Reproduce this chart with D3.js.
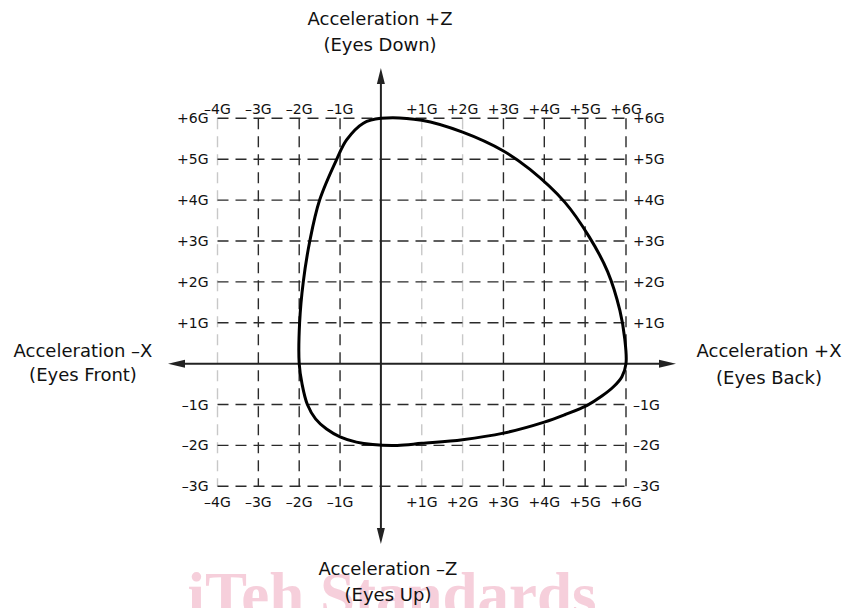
<!DOCTYPE html>
<html>
<head>
<meta charset="utf-8">
<script src="https://cdn.jsdelivr.net/npm/d3@7"></script>
<style>
  html, body { margin: 0; padding: 0; background: #fff; }
  svg { display: block; }
</style>
</head>
<body>
<svg id="chart" width="848" height="608"></svg>
<script>
// ---- data ----
const xTicks = [-4, -3, -2, -1, 1, 2, 3, 4, 5, 6];
const yTicks = [-3, -2, -1, 1, 2, 3, 4, 5, 6];
const lightGridX = [-4, 1, 2];
// tolerance envelope (clockwise from top), X and Z acceleration in G
const envX = [0, 1, 2, 3, 3.65, 4.5, 5.1, 5.55, 5.85, 5.97, 6, 5.9, 5.7, 5.4, 5.05, 4.5, 4, 3, 2, 1, 0.4, -0.2, -0.6, -1, -1.33, -1.6, -1.8, -1.93, -2, -1.99, -1.9, -1.74, -1.5, -1.08, -0.84, -0.43];
const envZ = [6, 5.95, 5.66, 5.2, 4.75, 3.95, 3.1, 2.25, 1.3, 0.6, 0, -0.32, -0.56, -0.8, -1.02, -1.25, -1.43, -1.7, -1.86, -1.95, -2.0, -1.98, -1.92, -1.79, -1.6, -1.35, -1.0, -0.5, 0, 1, 2, 3, 4, 5, 5.47, 5.88];
const axisLabels = {
  top: ["Acceleration +Z", "(Eyes Down)"],
  bottom: ["Acceleration \u2013Z", "(Eyes Up)"],
  left: ["Acceleration \u2013X", "(Eyes Front)"],
  right: ["Acceleration +X", "(Eyes Back)"]
};
const watermark = "iTeh Standards";

// ---- drawing ----
const svg = d3.select("#chart");
const x = d3.scaleLinear().domain([-4, 6]).range([217.5, 626]);
const y = d3.scaleLinear().domain([-3, 6]).range([486.3, 118.3]);
const fmt = v => (v > 0 ? "+" + v : "\u2013" + (-v)) + "G";
const font = "'DejaVu Sans', Verdana, sans-serif";

// watermark
svg.append("text")
  .attr("x", 392).attr("y", 616)
  .attr("text-anchor", "middle")
  .attr("font-family", "'Liberation Serif', serif")
  .attr("font-weight", "bold")
  .attr("font-size", 63)
  .attr("fill", "#f6cfdb")
  .text(watermark);

// grid
const g = svg.append("g");
g.selectAll(".vgrid").data(xTicks).join("line")
  .attr("x1", d => x(d)).attr("x2", d => x(d))
  .attr("y1", y(6)).attr("y2", y(-3))
  .attr("stroke", d => lightGridX.includes(d) ? "#c8c8c8" : "#2a2a2a")
  .attr("stroke-width", 1.4)
  .attr("stroke-dasharray", "11,7");
g.selectAll(".hgrid").data(yTicks).join("line")
  .attr("y1", d => y(d)).attr("y2", d => y(d))
  .attr("x1", x(-4)).attr("x2", x(6))
  .attr("stroke", "#2a2a2a")
  .attr("stroke-width", 1.4)
  .attr("stroke-dasharray", "11,7");

// axes with arrowheads
const ax = svg.append("g").attr("stroke", "#222").attr("fill", "#222");
const x0 = x(0), y0 = y(0);
ax.append("line").attr("x1", 180).attr("x2", 664).attr("y1", y0).attr("y2", y0).attr("stroke-width", 2);
ax.append("line").attr("x1", x0).attr("x2", x0).attr("y1", 80).attr("y2", 532).attr("stroke-width", 2);
const head = (pts) => ax.append("path").attr("stroke", "none").attr("d", "M" + pts.map(p => p.join(",")).join("L") + "Z");
head([[676, y0], [659, y0 - 4], [659, y0 + 4]]);
head([[168, y0], [185, y0 - 4], [185, y0 + 4]]);
head([[x0, 68], [x0 - 4, 84], [x0 + 4, 84]]);
head([[x0, 544], [x0 - 4, 528], [x0 + 4, 528]]);

// envelope curve
const pts = envX.map((v, i) => [v, envZ[i]]);
svg.append("path")
  .datum(pts)
  .attr("fill", "none")
  .attr("stroke", "#000")
  .attr("stroke-width", 3)
  .attr("stroke-linejoin", "round")
  .attr("d", d3.line().x(d => x(d[0])).y(d => y(d[1])).curve(d3.curveCatmullRomClosed.alpha(0.5)));

// tick labels
const tl = svg.append("g").attr("font-family", font).attr("font-size", 14).attr("fill", "#111");
tl.selectAll(".tt").data(xTicks).join("text")
  .attr("x", d => x(d)).attr("y", 113.5).attr("text-anchor", "middle").text(fmt);
tl.selectAll(".bt").data(xTicks).join("text")
  .attr("x", d => x(d)).attr("y", 506.5).attr("text-anchor", "middle").text(fmt);
tl.selectAll(".lt").data(yTicks).join("text")
  .attr("x", 208.5).attr("y", d => y(d) + 5).attr("text-anchor", "end").text(fmt);
tl.selectAll(".rt").data(yTicks).join("text")
  .attr("x", 633).attr("y", d => y(d) + 5).attr("text-anchor", "start").text(fmt);

// axis titles
const at = svg.append("g").attr("font-family", font).attr("font-size", 18).attr("fill", "#111").attr("text-anchor", "middle");
const title = (lines, cx, y1, y2) => {
  at.append("text").attr("x", cx).attr("y", y1).text(lines[0]);
  at.append("text").attr("x", cx).attr("y", y2).text(lines[1]);
};
title(axisLabels.top, 380, 25, 51);
title(axisLabels.bottom, 388, 575, 601);
title(axisLabels.left, 83, 357, 381);
title(axisLabels.right, 769, 357, 384);
</script>
</body>
</html>
